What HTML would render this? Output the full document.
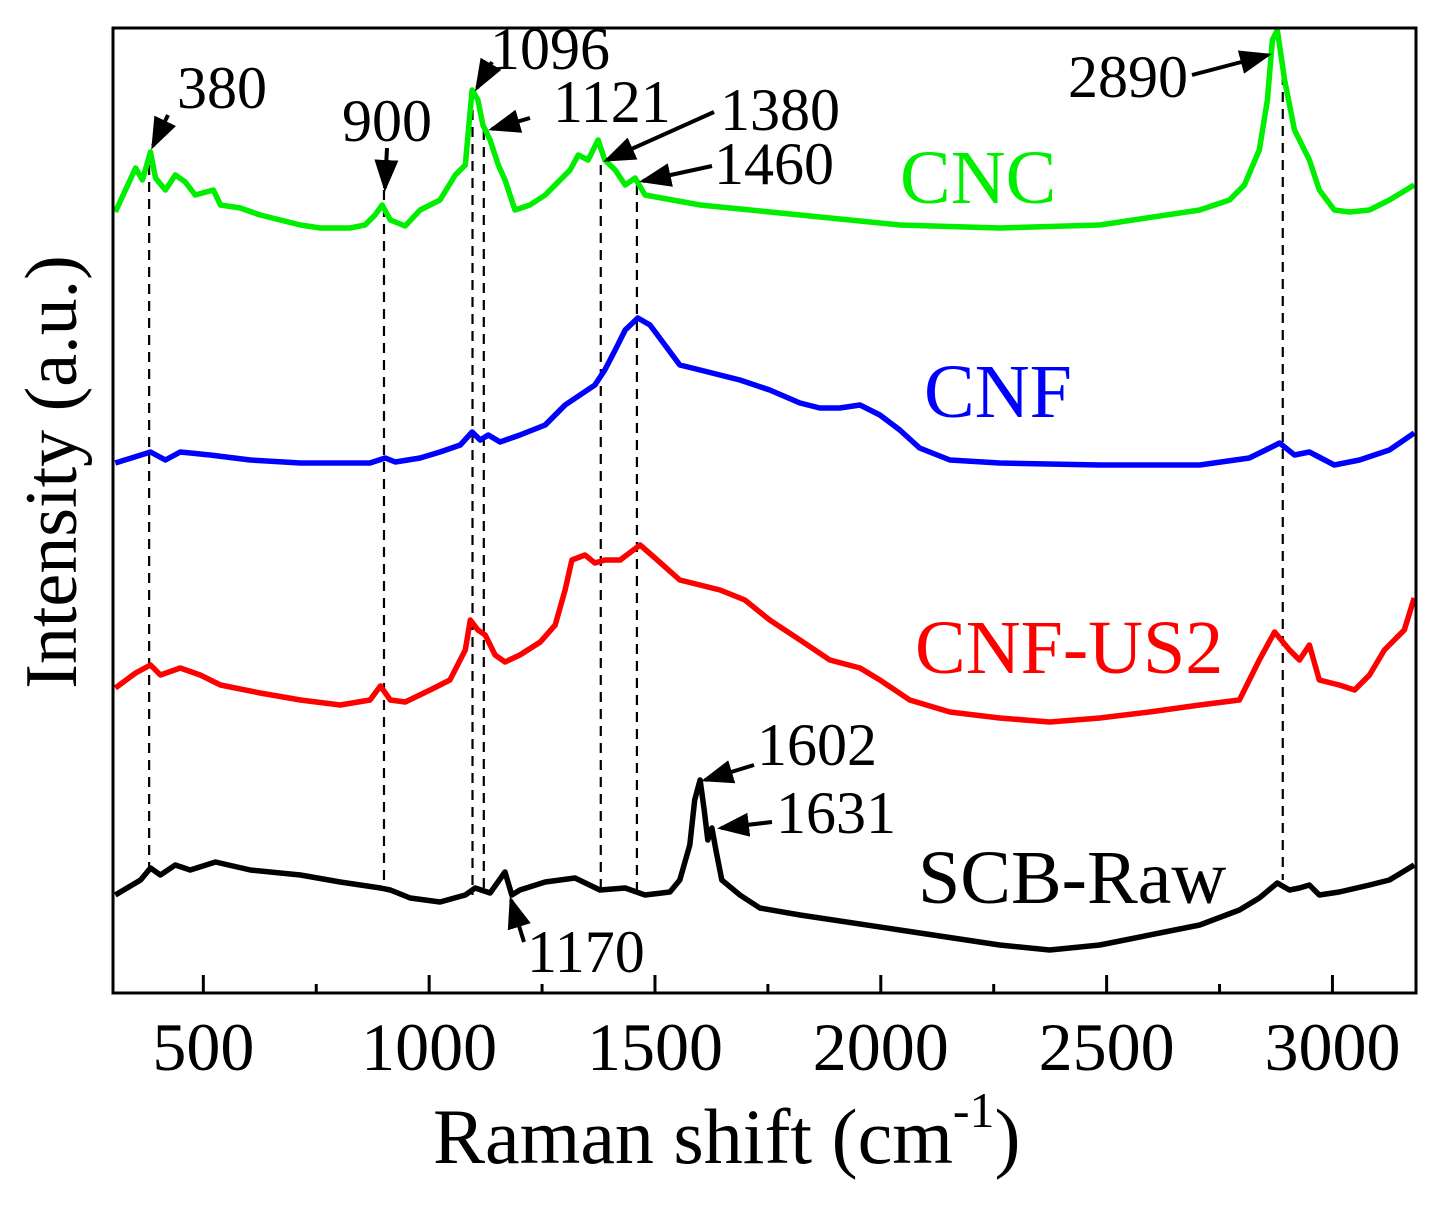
<!DOCTYPE html>
<html><head><meta charset="utf-8"><style>
html,body{margin:0;padding:0;background:#fff;}
svg text{font-family:"Liberation Serif",serif;}
</style></head><body>
<svg id="chart" width="1450" height="1205" viewBox="0 0 1450 1205" xmlns="http://www.w3.org/2000/svg">
<defs><marker id="ah" markerWidth="8" markerHeight="6" refX="7" refY="3" orient="auto" markerUnits="strokeWidth"><path d="M0,0 L8,3 L0,6 z" fill="#000"/></marker></defs>
<g id="plot"></g>
</svg>
<script>
const xTicks=[500,1000,1500,2000,2500,3000];
const xMinor=[750,1250,1750,2250,2750];
const cncWave=[305,350,365,383,394,416,438,460,482,522,538,582,626,715,759,825,858,880,896,914,947,980,1024,1058,1080,1095,1108,1119,1135,1153,1168,1190,1223,1257,1290,1312,1330,1352,1374,1389,1412,1434,1456,1478,1600,1821,2042,2263,2485,2706,2772,2805,2838,2856,2867,2878,2894,2916,2949,2971,3004,3038,3082,3126,3181];
const cncInt=[781,825,813,841,815,803,818,811,798,803,788,785,778,768,765,765,768,778,788,773,767,783,793,818,828,903,893,868,853,828,813,783,788,798,813,823,838,833,853,833,823,808,815,798,788,778,768,765,768,783,793,808,843,893,953,963,913,863,833,803,783,781,783,793,808];
const cnfWave=[305,383,416,449,515,604,715,869,903,925,980,1024,1069,1095,1113,1131,1157,1201,1257,1301,1334,1367,1389,1412,1434,1462,1489,1522,1555,1600,1688,1754,1821,1865,1909,1954,1998,2042,2086,2153,2263,2485,2706,2816,2861,2883,2916,2949,3004,3060,3126,3181];
const cnfInt=[530,541,533,541,538,533,530,530,535,531,535,541,548,561,553,558,551,558,568,588,598,608,623,643,663,675,668,648,628,623,613,603,590,585,585,588,578,563,545,533,530,528,528,535,545,550,538,541,528,533,543,560];
const usWave=[305,350,383,405,449,493,538,626,715,803,869,892,914,947,1002,1046,1080,1091,1108,1124,1146,1168,1201,1246,1279,1301,1316,1345,1367,1389,1423,1467,1500,1555,1644,1699,1754,1821,1887,1954,1998,2064,2153,2263,2374,2485,2595,2706,2794,2838,2872,2905,2927,2949,2971,3015,3049,3082,3115,3137,3159,3181];
const usInt=[305,320,328,318,325,318,308,300,293,288,293,307,293,291,303,313,343,373,363,358,338,331,338,351,368,403,433,438,430,433,433,448,435,413,403,393,373,353,333,325,313,293,281,275,271,275,281,288,293,333,361,343,333,348,313,308,303,318,343,353,363,395];
const scbWave=[305,361,383,405,438,471,527,604,715,803,892,914,958,1024,1080,1102,1135,1168,1183,1201,1257,1323,1378,1434,1478,1533,1555,1577,1588,1600,1609,1617,1626,1635,1648,1688,1732,1821,2042,2263,2374,2485,2706,2794,2838,2878,2905,2927,2949,2971,3015,3082,3126,3181];
const scbInt=[98,113,125,118,128,123,131,123,118,111,105,103,95,91,98,105,100,121,98,103,111,115,103,105,98,101,113,148,193,213,183,153,165,143,113,98,85,78,63,48,43,48,68,83,95,110,103,105,108,98,101,108,113,128];
const dashWave=[380,900,1096,1121,1380,1460,2890];
const dashTop=[828,803,883,863,828,808,918];
const dashBot=[123,103,98,103,103,103,113];

const L=113,R=1416,T=28,B=993,XMIN=300,XMAX=3185;
const sx=v=>L+(v-XMIN)*(R-L)/(XMAX-XMIN);
const sy=v=>B-v;
const NS="http://www.w3.org/2000/svg";
const g=document.getElementById('plot');
function mk(tag,attrs){const e=document.createElementNS(NS,tag);for(const k in attrs)e.setAttribute(k,attrs[k]);g.appendChild(e);return e;}

dashWave.forEach((w,i)=>{
  const l=mk('line',{x1:sx(w),x2:sx(w),y1:sy(dashTop[i]),y2:sy(dashBot[i]),stroke:'#000','stroke-width':2.2,'stroke-dasharray':'10,7'});
  
  
});

function series(wv,iv,color,name){
  const d=wv.map((w,i)=>(i?'L':'M')+sx(w).toFixed(1)+','+sy(iv[i]).toFixed(1)).join(' ');
  const p=mk('path',{d:d,fill:'none',stroke:color,'stroke-width':5.5,'stroke-linejoin':'round'});
  
  
}
series(scbWave,scbInt,'#000','scb-raw-line');
series(usWave,usInt,'#ff0000','cnf-us2-line');
series(cnfWave,cnfInt,'#0000ff','cnf-line');
series(cncWave,cncInt,'#00ee00','cnc-line');

const fr=mk('rect',{x:L,y:T,width:R-L,height:B-T,fill:'none',stroke:'#000','stroke-width':3});



xTicks.forEach(t=>{
  const l=mk('line',{x1:sx(t),x2:sx(t),y1:B,y2:B-18,stroke:'#000','stroke-width':3});
  
  
  const tx=mk('text',{x:sx(t),y:1070,'font-size':68,'text-anchor':'middle'});
  tx.textContent=t;
  
  
});
xMinor.forEach(t=>{
  const l=mk('line',{x1:sx(t),x2:sx(t),y1:B,y2:B-9,stroke:'#000','stroke-width':3});
  
  
});

function label(txt,x,y,size,color,name){
  const t=mk('text',{x:x,y:y,'font-size':size,fill:color});
  t.textContent=txt;
  
  
}
function arrow(x1,y1,x2,y2,name){
  const a=mk('line',{x1:x1,y1:y1,x2:x2,y2:y2,stroke:'#000','stroke-width':4,'marker-end':'url(#ah)'});
  
  
}
const PS=60;
label('380',177,108,PS,'#000','peak-label-380'); arrow(168,115,153,146,'arrow-380');
label('900',342,141,PS,'#000','peak-label-900'); arrow(387,148,385,188,'arrow-900');
label('1096',490,69,PS,'#000','peak-label-1096'); arrow(492,62,477,88,'arrow-1096');
label('1121',553,122,PS,'#000','peak-label-1121'); arrow(530,118,492,129,'arrow-1121');
label('1380',720,130,PS,'#000','peak-label-1380'); arrow(714,112,607,160,'arrow-1380');
label('1460',714,184,PS,'#000','peak-label-1460'); arrow(712,166,643,181,'arrow-1460');
label('2890',1068,97,PS,'#000','peak-label-2890'); arrow(1192,75,1268,55,'arrow-2890');
label('1602',757,765,PS,'#000','peak-label-1602'); arrow(754,765,705,780,'arrow-1602');
label('1631',776,833,PS,'#000','peak-label-1631'); arrow(772,822,721,828,'arrow-1631');
label('1170',527,972,PS,'#000','peak-label-1170'); arrow(524,942,511,900,'arrow-1170');
label('CNC',900,203,76,'#00ee00','cnc-label');
label('CNF',924,417,76,'#0000ff','cnf-label');
label('CNF-US2',915,673,76,'#ff0000','cnf-us2-label');
label('SCB-Raw',918,903,76,'#000','scb-raw-label');

const xt=mk('text',{x:433,y:1163,'font-size':78});
xt.innerHTML='Raman shift (cm<tspan font-size="50" dy="-36">-1</tspan><tspan dy="36">)</tspan>';


const yt=mk('text',{x:0,y:0,'font-size':74,'text-anchor':'middle',transform:'translate(76,472) rotate(-90)'});
yt.textContent='Intensity (a.u.)';


</script>
</body></html>
